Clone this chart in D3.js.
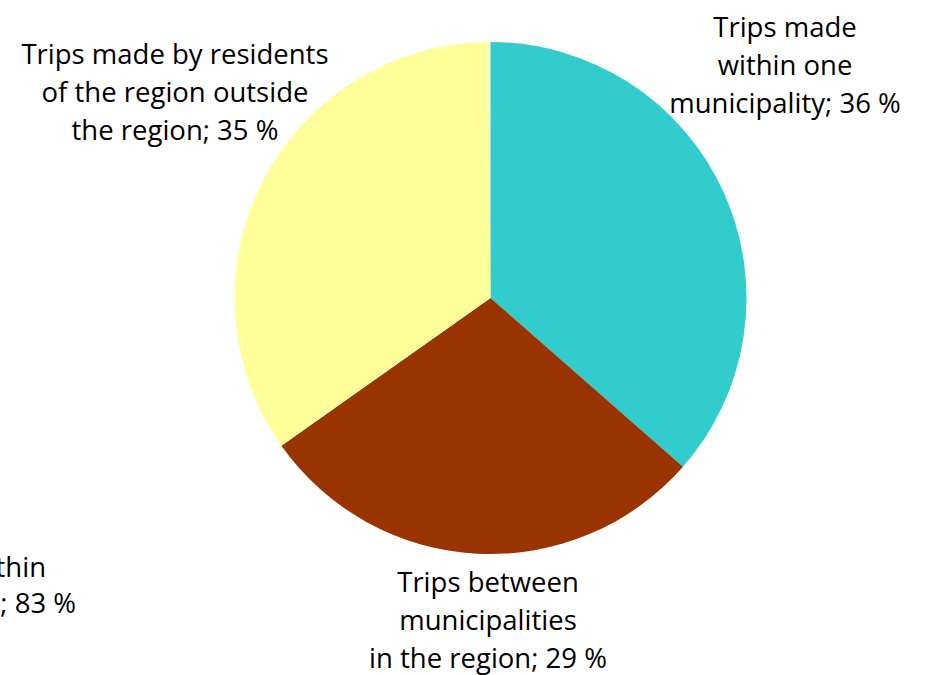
<!DOCTYPE html>
<html><head><meta charset="utf-8">
<script src="https://cdn.jsdelivr.net/npm/d3@7"></script>
<style>body{margin:0;background:#fff;} svg{display:block;}</style>
</head><body>
<svg id="c" width="926" height="675"></svg>
<script>
const categories = ["Trips made within one municipality", "Trips between municipalities in the region", "Trips made by residents of the region outside the region"];
const values = [36.5, 28.8, 34.7];
const labelLines = [
  ["Trips made", "within one", "municipality; 36 %"],
  ["Trips between", "municipalities", "in the region; 29 %"],
  ["Trips made by residents", "of the region outside", "the region; 35 %"]
];
const clippedLabel = ["thin", "; 83 %"];

const svg = d3.select("#c");
const cx = 490.5, cy = 298, r = 256;
const color = d3.scaleOrdinal().domain(categories).range(["#33CCCC", "#993300", "#FFFF99"]);
const pie = d3.pie().sort(null).startAngle(0).endAngle(2 * Math.PI - 0.008);
const arc = d3.arc().innerRadius(0).outerRadius(r);
const g = svg.append("g").attr("transform", `translate(${cx},${cy})`);
g.selectAll("path").data(pie(values)).join("path")
  .attr("d", arc).attr("fill", (d, i) => color(categories[i]));

const font = "'Open Sans', sans-serif";
const fs = 27.5;
const labelPos = [
  {x: 785, y: 37},
  {x: 488, y: 592},
  {x: 175, y: 64}
];
const lh = 38;
labelLines.forEach((lines, i) => {
  const t = svg.append("text").attr("text-anchor", "middle")
    .attr("font-family", font).attr("font-size", fs).attr("fill", "#000");
  lines.forEach((s, j) => t.append("tspan").attr("x", labelPos[i].x).attr("y", labelPos[i].y + j * lh).text(s));
});
const ends = [46, 76];
clippedLabel.forEach((s, j) => svg.append("text").attr("text-anchor", "end")
  .attr("font-family", font).attr("font-size", fs).attr("x", ends[j]).attr("y", 577 + j * 36).text(s));
</script>
</body></html>
